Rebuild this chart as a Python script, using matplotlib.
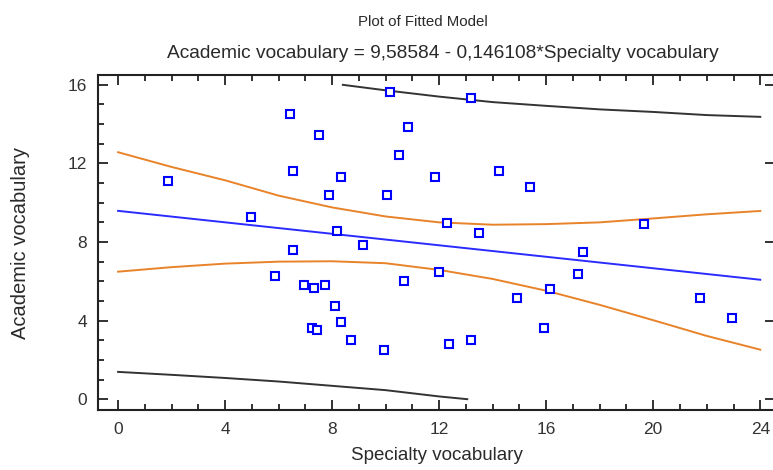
import numpy as np
import matplotlib
matplotlib.use("Agg")
import matplotlib.pyplot as plt
from matplotlib.ticker import MultipleLocator

plt.rcParams["font.family"] = ["Liberation Sans", "DejaVu Sans"]

# observed points (Specialty vocabulary, Academic vocabulary)
spec_vocab = [1.88, 4.95, 5.86, 6.44, 6.53, 6.53, 6.95, 7.26, 7.34, 7.44, 7.50, 7.73,
              7.87, 8.09, 8.17, 8.33, 8.34, 8.70, 9.15, 9.94, 10.04, 10.18, 10.50, 10.68,
              10.84, 11.86, 12.00, 12.31, 12.37, 13.20, 13.20, 13.50, 14.24, 14.90, 15.38,
              15.90, 16.14, 17.17, 17.38, 19.64, 21.74, 22.93]
acad_vocab = [11.10, 9.27, 6.28, 14.49, 11.63, 7.59, 5.79, 3.63, 5.67, 3.52, 13.47, 5.79,
              10.39, 4.75, 8.58, 3.94, 11.33, 3.02, 7.83, 2.51, 10.39, 15.61, 12.43, 6.00,
              13.86, 11.31, 6.47, 8.95, 2.80, 15.32, 3.02, 8.46, 11.63, 5.16, 10.80,
              3.63, 5.59, 6.39, 7.51, 8.92, 5.16, 4.14]

# fitted model from the title
intercept = 9.58584
slope = -0.146108
fit_x = [0, 24]

# confidence limits (orange)
band_x = [0, 2, 4, 6, 8, 10, 12, 14, 16, 18, 20, 22, 24]
conf_upper = [12.57, 11.82, 11.14, 10.36, 9.76, 9.30, 9.00, 8.88, 8.91, 9.00, 9.20, 9.41, 9.58]
conf_lower = [6.49, 6.72, 6.90, 7.00, 7.02, 6.92, 6.58, 6.12, 5.52, 4.80, 4.02, 3.22, 2.52]

# prediction limits (black), clipped to 0..16
pred_upper_x = [8.4, 10, 12, 14, 16, 18, 20, 22, 24]
pred_upper = [16.0, 15.72, 15.40, 15.12, 14.93, 14.75, 14.62, 14.46, 14.37]
pred_lower_x = [0, 2, 4, 6, 8, 10, 12, 13.05]
pred_lower = [1.39, 1.24, 1.08, 0.90, 0.68, 0.46, 0.14, 0.0]

fig = plt.figure(figsize=(7.73, 4.70), dpi=100)
ax = fig.add_axes([98 / 773, 1 - 410 / 470, 677 / 773, 335 / 470])

fit_y = [intercept + slope * x for x in fit_x]
ax.plot(fit_x, fit_y, color="#2b2bff", lw=1.4, zorder=2)
ax.plot(band_x, conf_upper, color="#e8832a", lw=1.4, zorder=2)
ax.plot(band_x, conf_lower, color="#e8832a", lw=1.4, zorder=2)
ax.plot(pred_upper_x, pred_upper, color="#333333", lw=1.4, zorder=2)
ax.plot(pred_lower_x, pred_lower, color="#333333", lw=1.4, zorder=2)
ax.plot(spec_vocab, acad_vocab, ls="none", marker="s", ms=6.4, mfc="white",
        mec="#0000ff", mew=1.5, zorder=3)

ax.set_xlim(-0.75, 24.55)
ax.set_ylim(-0.55, 16.5)
ax.xaxis.set_major_locator(MultipleLocator(4))
ax.xaxis.set_minor_locator(MultipleLocator(1))
ax.yaxis.set_major_locator(MultipleLocator(4))
ax.yaxis.set_minor_locator(MultipleLocator(1))
ax.tick_params(which="both", direction="in", top=True, right=True, color="#222222",
               labelsize=12.5, labelcolor="#333333", width=1.3)
ax.tick_params(which="major", length=7)
ax.tick_params(which="minor", length=4, right=False)
ax.tick_params(axis="x", pad=9)
ax.tick_params(axis="y", pad=8)
for s in ax.spines.values():
    s.set_color("#222222")
    s.set_linewidth(1.5)

ax.set_xlabel("Specialty vocabulary", fontsize=13.5, color="#2a2a2a", labelpad=7)
ax.set_ylabel("Academic vocabulary", fontsize=14.5, color="#2a2a2a", labelpad=27)

fig.text(423 / 773, 1 - 22 / 470, "Plot of Fitted Model", ha="center", va="center",
         fontsize=10.8, color="#2a2a2a")
fig.text(443 / 773, 1 - 53 / 470,
         "Academic vocabulary = 9,58584 - 0,146108*Specialty vocabulary",
         ha="center", va="center", fontsize=13.8, color="#2a2a2a")

fig.savefig("out.png", dpi=100)
